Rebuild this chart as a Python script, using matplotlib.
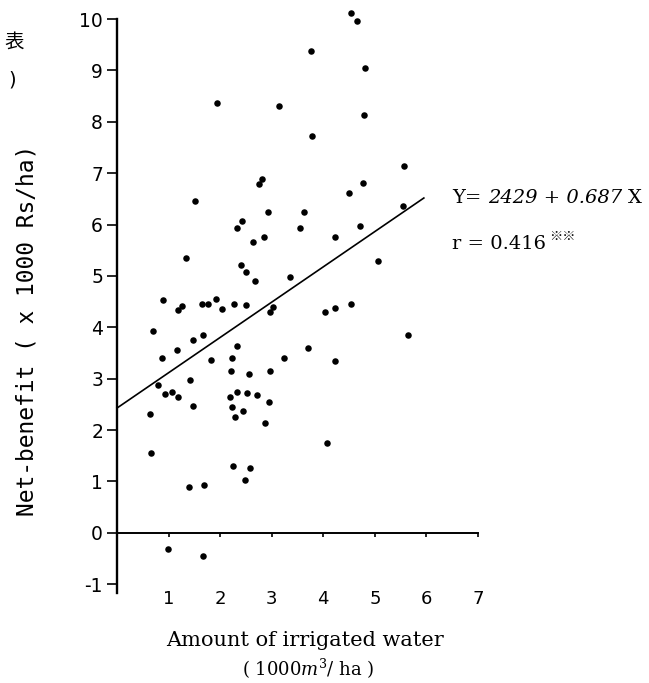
import matplotlib
matplotlib.use("Agg")
import matplotlib.pyplot as plt
import numpy as np

plt.rcParams['axes.unicode_minus'] = False
plt.rcParams['mathtext.fontset'] = 'dejavuserif'

# irrigated water (1000 m3/ha)
water = [2.81, 2.75, 1.52, 2.93, 3.63, 2.42, 2.33, 3.55, 2.86, 2.64,
         1.33, 2.41, 2.51, 2.67, 3.35, 0.89, 1.19, 1.27, 1.64, 1.77,
         1.91, 2.04, 2.27, 2.51, 3.02, 2.97, 0.69, 1.47, 1.66, 1.16,
         0.88, 1.82, 2.33, 2.23, 2.22, 2.56, 2.96, 3.23, 3.70, 1.41,
         0.79, 0.94, 1.07, 1.18, 1.48, 0.64, 2.20, 2.32, 2.53, 2.71,
         2.95, 2.23, 2.44, 2.29, 2.87, 0.65, 1.40, 1.69, 2.24, 2.57,
         2.49, 0.99, 1.67, 1.94, 3.14, 3.77, 3.79, 4.03, 4.54, 4.65,
         4.81, 4.79, 5.56, 4.77, 4.49, 5.54, 4.72, 4.22, 5.06, 4.23,
         4.53, 5.65, 4.22, 4.08]
# net benefit (1000 Rs/ha)
benefit = [6.89, 6.78, 6.45, 6.25, 6.25, 6.06, 5.94, 5.94, 5.76, 5.66,
           5.34, 5.22, 5.08, 4.90, 4.97, 4.53, 4.34, 4.41, 4.45, 4.45,
           4.55, 4.36, 4.46, 4.43, 4.39, 4.30, 3.93, 3.76, 3.85, 3.55,
           3.40, 3.36, 3.63, 3.41, 3.15, 3.09, 3.15, 3.40, 3.59, 2.97,
           2.87, 2.71, 2.74, 2.65, 2.46, 2.32, 2.65, 2.74, 2.73, 2.68,
           2.55, 2.44, 2.38, 2.25, 2.14, 1.56, 0.90, 0.93, 1.30, 1.26,
           1.02, -0.32, -0.45, 8.37, 8.30, 9.37, 7.73, 4.29, 10.11, 9.97,
           9.05, 8.14, 7.13, 6.80, 6.62, 6.36, 5.97, 5.76, 5.29, 4.38,
           4.45, 3.85, 3.35, 1.74]

intercept = 2.429
slope = 0.687
line_x_end = 5.95
x_ticks = [1, 2, 3, 4, 5, 6, 7]
y_ticks = [-1, 0, 1, 2, 3, 4, 5, 6, 7, 8, 9, 10]

W, H = 649, 683
fig = plt.figure(figsize=(W / 100, H / 100), dpi=100)
ax = fig.add_axes([117 / W, 1 - 593 / H, 361 / W, (593 - 19) / H])
ax.set_xlim(0, 7)
ax.set_ylim(-1.17, 10.0)

ax.scatter(water, benefit, s=22, color='black', clip_on=False, zorder=3, linewidths=0)
lx = np.array([0, line_x_end])
ax.plot(lx, intercept + slope * lx, color='black', lw=1.2, clip_on=False)

for s in ['top', 'right']:
    ax.spines[s].set_visible(False)
ax.spines['bottom'].set_position(('data', 0))
ax.spines['bottom'].set_linewidth(1.4)
ax.spines['left'].set_linewidth(1.7)

ax.set_xticks(x_ticks)
ax.set_xticklabels([str(t) for t in x_ticks])
ax.set_yticks(y_ticks)
ax.set_yticklabels([str(t) for t in y_ticks])
ax.tick_params(axis='x', direction='out', length=3, width=1.2, pad=38, labelsize=13)
ax.tick_params(axis='y', direction='out', length=7, width=1.2, pad=3, labelsize=13.5)

fig.text(27 / W, 1 - 330 / H, "Net-benefit ( x 1000 Rs/ha)", rotation=90,
         ha='center', va='center', family='DejaVu Sans Mono', fontsize=16.5)
fig.text(305 / W, 1 - 641 / H, "Amount of irrigated water", ha='center', va='center',
         family='DejaVu Serif', fontsize=15)
fig.text(308 / W, 1 - 669 / H, r"( 1000$\mathit{m}^3$/ ha )", ha='center', va='center',
         family='DejaVu Serif', fontsize=13)

# equation pieces, placed one after another
fig.canvas.draw()
renderer = fig.canvas.get_renderer()


def place_run(pieces, x_px, y_px):
    x = x_px
    for txt, kw in pieces:
        t = fig.text(x / W, 1 - y_px / H, txt, ha='left', va='baseline', **kw)
        x = t.get_window_extent(renderer=renderer).x1
    return x


serif = dict(family='DejaVu Serif', fontsize=14)
serif_it = dict(family='DejaVu Serif', fontsize=14, style='italic')
place_run([("Y= ", serif), ("2429 + 0.687 ", serif_it), ("X", serif)], 452, 203)
end_x = place_run([("r = 0.416", serif)], 452, 249)
fig.text((end_x + 3) / W, 1 - 236 / H, "※※", ha='left', va='center',
         family=['Noto Sans CJK JP', 'DejaVu Sans'], fontsize=9.5)

fig.text(14 / W, 1 - 42 / H, "表", ha='center', va='center',
         family=['Noto Sans CJK JP', 'DejaVu Sans'], fontsize=14)
fig.text(12 / W, 1 - 80 / H, ")", ha='center', va='center',
         family='DejaVu Sans', fontsize=14)

fig.savefig("out.png", dpi=100)
